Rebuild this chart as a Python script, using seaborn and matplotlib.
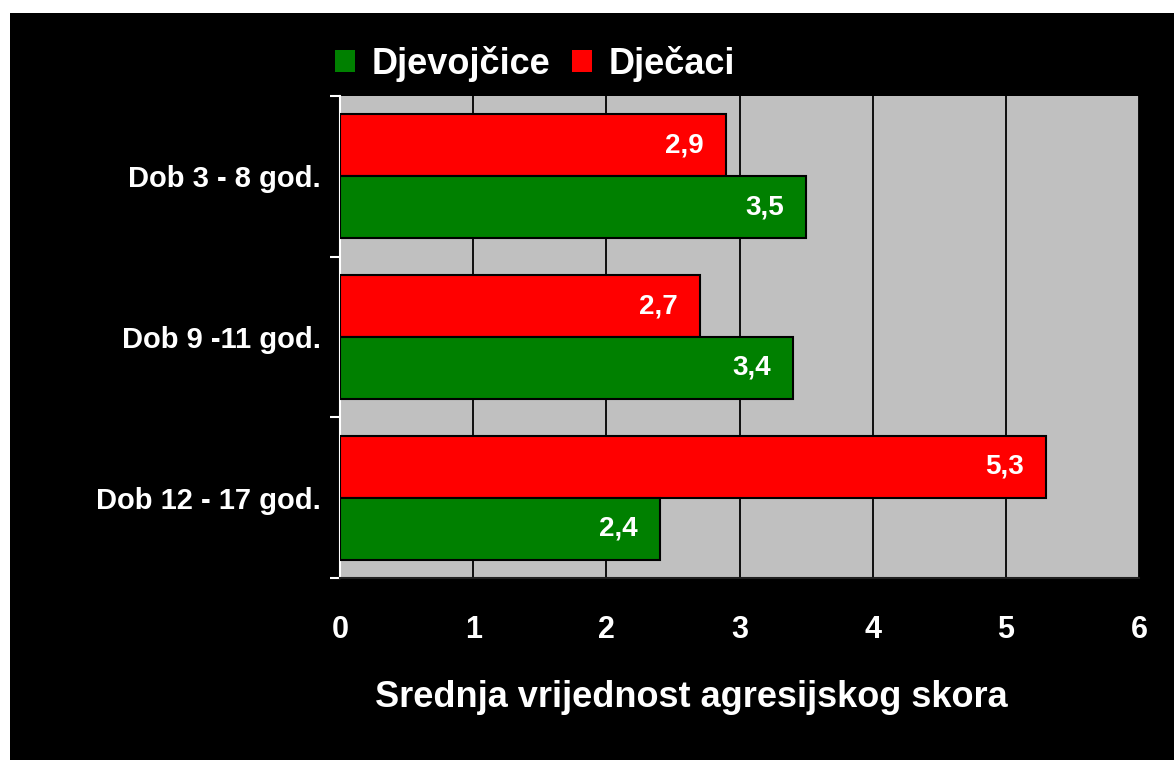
import pandas as pd
import matplotlib
matplotlib.use("Agg")
import matplotlib.pyplot as plt
from matplotlib.patches import Rectangle, Patch
from matplotlib.ticker import FixedLocator
import seaborn as sns

# podaci
dobne_skupine = ['Dob 3 - 8 god.', 'Dob 9 -11 god.', 'Dob 12 - 17 god.']
djevojcice = [3.5, 3.4, 2.4]
djecaci = [2.9, 2.7, 5.3]
x_ticks = [0, 1, 2, 3, 4, 5, 6]

df = pd.DataFrame({
    'skupina': dobne_skupine * 2,
    'spol': ['Dječaci'] * 3 + ['Djevojčice'] * 3,
    'skor': djecaci + djevojcice,
})

sns.set_theme(style='white')
plt.rcParams['font.family'] = ['Liberation Sans', 'DejaVu Sans']
plt.rcParams['font.weight'] = 'bold'

boje = {'Djevojčice': '#008000', 'Dječaci': '#FF0000'}

fig = plt.figure(figsize=(11.74, 7.60), dpi=100, facecolor='white')
# crna pozadina (s bijelim rubom lijevo i gore)
fig.add_artist(Rectangle((10 / 1174, 0), 1, 1 - 13 / 760, transform=fig.transFigure,
                         facecolor='black', edgecolor='none', zorder=0))

ax = fig.add_axes([340 / 1174, 1 - 578 / 760, 799 / 1174, 482 / 760])
ax.set_facecolor('#C0C0C0')

sns.barplot(data=df, y='skupina', x='skor', hue='spol', orient='h',
            hue_order=['Dječaci', 'Djevojčice'], palette=boje, saturation=1,
            width=0.77, edgecolor='black', linewidth=1.5, ax=ax, legend=False,
            zorder=3)

ax.set_xlim(0, 6)
ax.set_ylim(2.5, -0.5)
ax.set_xticks(x_ticks)
ax.xaxis.grid(True, color='black', linewidth=1.3, zorder=1)
ax.set_axisbelow(True)

for s in ['top', 'right']:
    ax.spines[s].set_visible(False)
ax.spines['left'].set_color('white')
ax.spines['left'].set_linewidth(1.5)
ax.spines['bottom'].set_color('#202020')
ax.spines['bottom'].set_linewidth(1.5)

# oznake na y osi: tekst u sredini, crtice na granicama
ax.tick_params(axis='y', which='major', length=0, pad=14, labelsize=21, labelcolor='white')
ax.yaxis.set_minor_locator(FixedLocator([-0.5, 0.5, 1.5, 2.5]))
ax.tick_params(axis='y', which='minor', length=7, width=1.5, color='white', left=True)
ax.tick_params(axis='x', length=0, pad=27, labelsize=22, labelcolor='white')
for lbl in ax.get_xticklabels() + ax.get_yticklabels():
    lbl.set_fontweight('bold')

ax.set_ylabel('')
ax.set_xlabel('Srednja vrijednost agresijskog skora', fontsize=26, fontweight='bold',
              color='white')
# naslov osi nije centriran u odnosu na os (kao u originalu)
ax.xaxis.set_label_coords((691 - 340) / 799, -0.212)

# vrijednosti u stupcima
for p in ax.patches:
    w = p.get_width()
    if w <= 0:
        continue
    ax.annotate(f'{w:.1f}'.replace('.', ','), (w, p.get_y() + p.get_height() / 2),
                xytext=(-16, 0), textcoords='offset points', ha='right', va='center',
                fontsize=20, fontweight='bold', color='white', zorder=4)

# legenda
handles = [Patch(facecolor=boje['Djevojčice'], edgecolor='none'),
           Patch(facecolor=boje['Dječaci'], edgecolor='none')]
fig.legend(handles, ['Djevojčice', 'Dječaci'], loc='center',
           bbox_to_anchor=(535 / 1174, 1 - 64 / 760), ncol=2, frameon=False,
           prop={'size': 26, 'weight': 'bold'}, labelcolor='white',
           handlelength=0.55, handleheight=0.55, handletextpad=0.45,
           columnspacing=0.6)

fig.savefig('out.png', dpi=100, facecolor='white')
